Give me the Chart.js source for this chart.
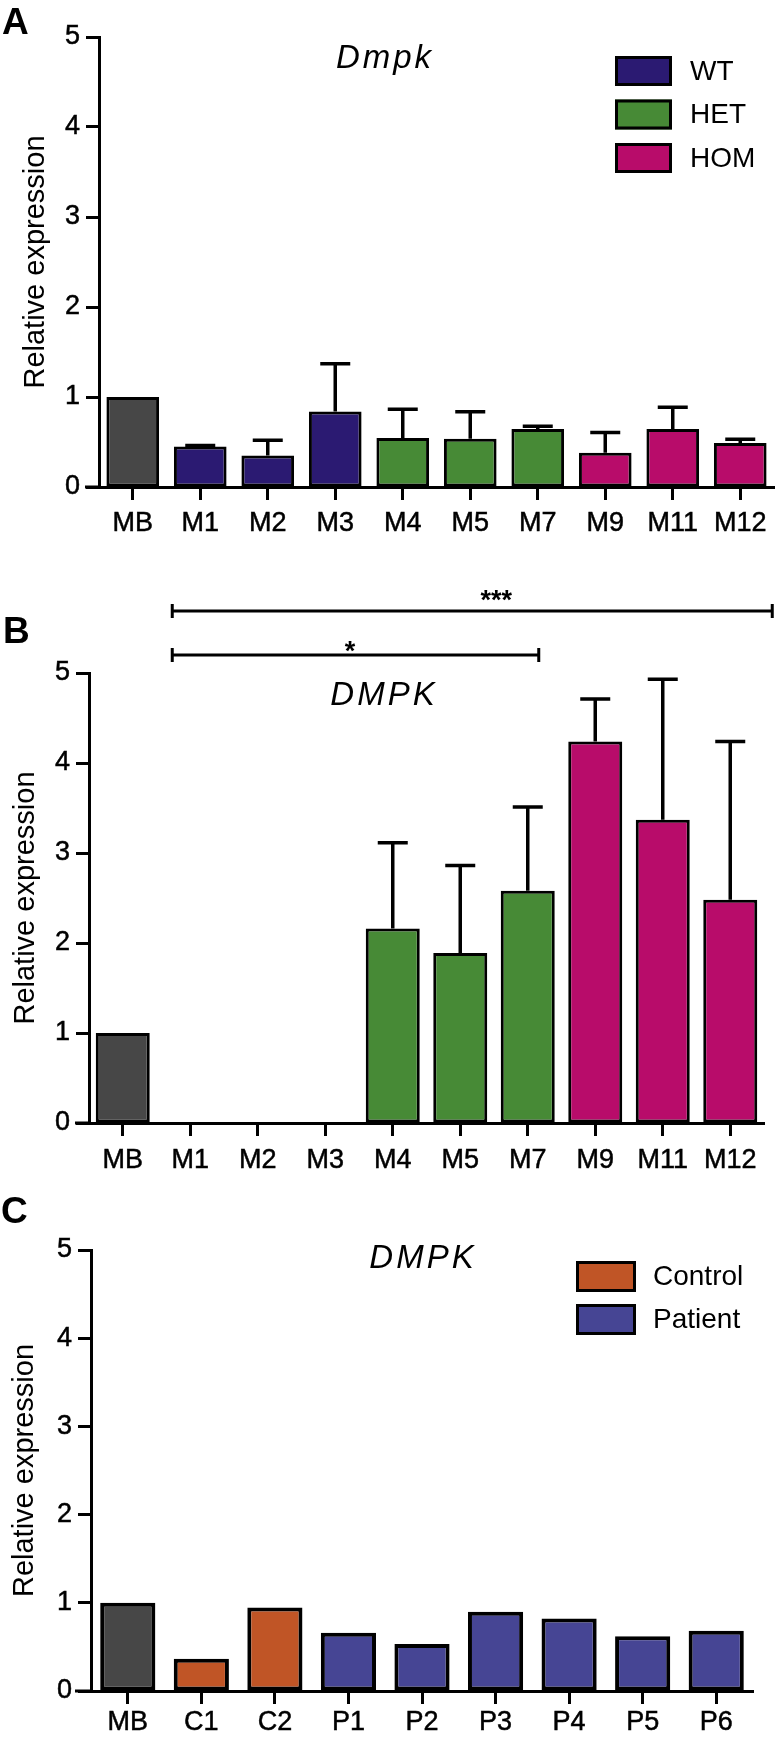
<!DOCTYPE html>
<html><head><meta charset="utf-8">
<script src="https://cdn.jsdelivr.net/npm/chart.js@4.4.0/dist/chart.umd.min.js"></script>
<style>
html,body{margin:0;padding:0;background:#fff;}
body{width:777px;height:1737px;position:relative;overflow:hidden;}
.pan{position:absolute;left:0;width:777px;}
canvas{display:block;}
</style></head><body>
<div class="pan" style="top:0;height:560px"><canvas id="cA" width="777" height="560"></canvas></div>
<div class="pan" style="top:560px;height:630px"><canvas id="cB" width="777" height="630"></canvas></div>
<div class="pan" style="top:1190px;height:547px"><canvas id="cC" width="777" height="547"></canvas></div>
<script>
// ---------- data ----------
const mouseCategories = ['MB','M1','M2','M3','M4','M5','M7','M9','M11','M12'];
const mouseGroups     = ['MB','WT','WT','WT','HET','HET','HET','HOM','HOM','HOM'];
const dmpkMouse       = [1.0, 0.45, 0.35, 0.84, 0.545, 0.535, 0.645, 0.38, 0.645, 0.49];
const dmpkMouseSD     = [0, 0.01, 0.17, 0.53, 0.32, 0.30, 0.03, 0.225, 0.24, 0.04];
const dmpkHuman       = [1.0, 0, 0, 0, 2.16, 1.89, 2.58, 4.24, 3.37, 2.48];
const dmpkHumanSD     = [0, 0, 0, 0, 0.955, 0.97, 0.93, 0.47, 1.56, 1.76];
const cellCategories  = ['MB','C1','C2','P1','P2','P3','P4','P5','P6'];
const cellGroups      = ['MB','Control','Control','Patient','Patient','Patient','Patient','Patient','Patient'];
const dmpkCells       = [1.0, 0.367, 0.947, 0.66, 0.534, 0.898, 0.822, 0.621, 0.682];
const yTickValues     = [0, 1, 2, 3, 4, 5];
const comparisonsB    = [
  {from:'M1', to:'M12', label:'***'},
  {from:'M1', to:'M7',  label:'*'}
];

// ---------- styles ----------
const FONT = "'Liberation Sans', Arial, Helvetica, sans-serif";
const groupColors = {MB:'#474747', WT:'#2b1a72', HET:'#478a36', HOM:'#b80c6a', Control:'#c05526', Patient:'#464594'};

const decorPlugin = {
  id: 'decor',
  afterDraw(chart, args, o) {
    const ctx = chart.ctx, xs = chart.scales.x, ys = chart.scales.y, ca = chart.chartArea;
    ctx.save();
    ctx.strokeStyle = '#000'; ctx.fillStyle = '#000'; ctx.lineCap = 'butt';
    // x axis extension to the left
    ctx.lineWidth = 3;
    ctx.beginPath(); ctx.moveTo(ca.left - o.axisExt, ca.bottom); ctx.lineTo(ca.left, ca.bottom); ctx.stroke();
    // error bars (upward SD)
    if (o.errors) {
      const meta = chart.getDatasetMeta(0), vals = chart.data.datasets[0].data;
      ctx.lineWidth = 3.5;
      ctx.beginPath();
      o.errors.forEach((e, i) => {
        if (!(e > 0)) return;
        const px = meta.data[i].x;
        const y0 = ys.getPixelForValue(vals[i]);
        const y1 = ys.getPixelForValue(vals[i] + e);
        ctx.moveTo(px, y0); ctx.lineTo(px, y1);
        ctx.moveTo(px - o.capWidth / 2, y1); ctx.lineTo(px + o.capWidth / 2, y1);
      });
      ctx.stroke();
    }
    // significance brackets
    (o.brackets || []).forEach(b => {
      const labels = chart.data.labels;
      const x0 = xs.getPixelForValue(labels.indexOf(b.from)) + b.padL;
      const x1 = xs.getPixelForValue(labels.indexOf(b.to)) + b.padR;
      ctx.lineWidth = 3;
      ctx.beginPath();
      ctx.moveTo(x0, b.y); ctx.lineTo(x1, b.y);
      ctx.moveTo(x0, b.y - 7); ctx.lineTo(x0, b.y + 7);
      ctx.moveTo(x1, b.y - 7); ctx.lineTo(x1, b.y + 7);
      ctx.stroke();
      ctx.font = `bold 27px ${FONT}`;
      ctx.textAlign = 'center'; ctx.textBaseline = 'alphabetic';
      ctx.fillText(b.label, x0 + (x1 - x0) * b.at, b.labelY);
    });
    // gene title
    if (o.title) {
      ctx.font = `italic 33px ${FONT}`;
      ctx.letterSpacing = '3px';
      ctx.textAlign = 'center'; ctx.textBaseline = 'alphabetic';
      ctx.fillText(o.title.text, o.title.x, o.title.y);
      ctx.letterSpacing = '0px';
    }
    // panel letter
    if (o.letter) {
      ctx.font = `bold 37px ${FONT}`;
      ctx.textAlign = 'left'; ctx.textBaseline = 'alphabetic';
      ctx.fillText(o.letter.text, o.letter.x, o.letter.y);
    }
    // legend
    if (o.legend) {
      const L = o.legend;
      L.items.forEach((it, k) => {
        const by = L.y + k * L.step;
        ctx.fillStyle = groupColors[it];
        ctx.fillRect(L.x, by, L.w, L.h);
        ctx.lineWidth = 3; ctx.strokeStyle = '#000';
        ctx.strokeRect(L.x + 1.5, by + 1.5, L.w - 3, L.h - 3);
        ctx.fillStyle = '#000';
        ctx.font = `28px ${FONT}`;
        ctx.textAlign = 'left'; ctx.textBaseline = 'middle';
        ctx.fillText(it, L.textX, by + L.h / 2 + 1);
      });
    }
    ctx.restore();
  }
};

function uniqueGroups(g) { return g.filter((v, i) => v !== 'MB' && g.indexOf(v) === i); }

function makeChart(id, cats, groups, values, p) {
  return new Chart(document.getElementById(id), {
    type: 'bar',
    data: {
      labels: cats,
      datasets: [{
        data: values,
        backgroundColor: groups.map(g => groupColors[g]),
        borderColor: '#000',
        borderWidth: p.barBorder,
        borderSkipped: false,
        categoryPercentage: 1.0,
        barPercentage: p.barPct
      }]
    },
    options: {
      responsive: false,
      animation: false,
      devicePixelRatio: 1,
      layout: { padding: p.pad },
      plugins: { legend: {display:false}, tooltip: {enabled:false}, decor: p.decor },
      scales: {
        x: {
          grid: { display:true, drawOnChartArea:false, drawTicks:true, tickLength:13, tickWidth:3, tickColor:'#000', offset:false },
          border: { display:true, color:'#000', width:3 },
          ticks: { color:'#000', font:{family:FONT, size:27}, padding:p.xPad, autoSkip:false, maxRotation:0, minRotation:0, textStrokeColor:'#000', textStrokeWidth:0.5 },
          afterFit: s => { s.height = p.xHeight; }
        },
        y: {
          min: 0, max: 5,
          afterBuildTicks: s => { s.ticks = yTickValues.map(v => ({value:v})); },
          grid: { display:true, drawOnChartArea:false, drawTicks:true, tickLength:13, tickWidth:3, tickColor:'#000' },
          border: { display:true, color:'#000', width:3 },
          ticks: { color:'#000', font:{family:FONT, size:27}, padding:6, textStrokeColor:'#000', textStrokeWidth:0.5 },
          title: { display:true, text:'Relative expression', color:'#000', font:{family:FONT, size:29}, padding:{top:p.yTitlePad, bottom:0} },
          afterFit: s => { s.width = p.yWidth; }
        }
      }
    },
    plugins: [decorPlugin]
  });
}

// Panel A
makeChart('cA', mouseCategories, mouseGroups, dmpkMouse, {
  barBorder: 3, barPct: 0.78, pad: {top:37, bottom:13, left:0, right:3},
  xHeight: 60, xPad: 7, yWidth: 99, yTitlePad: 19,
  decor: {
    axisExt: 14, errors: dmpkMouseSD, capWidth: 30,
    title: {text:'Dmpk', x:385, y:68},
    letter: {text:'A', x:2, y:34},
    legend: {items: uniqueGroups(mouseGroups), x:615, y:56, w:57, h:30, step:43.5, textX:690}
  }
});

// Panel B
makeChart('cB', mouseCategories, mouseGroups, dmpkHuman, {
  barBorder: 3, barPct: 0.8, pad: {top:113, bottom:7, left:0, right:13},
  xHeight: 60, xPad: 8, yWidth: 89, yTitlePad: 9,
  decor: {
    axisExt: 14, errors: dmpkHumanSD, capWidth: 30,
    title: {text:'DMPK', x:384, y:145},
    letter: {text:'B', x:3, y:83},
    brackets: [
      {from:comparisonsB[0].from, to:comparisonsB[0].to, label:comparisonsB[0].label, padL:-18, padR:42, y:51, labelY:49, at:0.54},
      {from:comparisonsB[1].from, to:comparisonsB[1].to, label:comparisonsB[1].label, padL:-18, padR:11, y:95, labelY:100, at:0.485}
    ]
  }
});

// Panel C
makeChart('cC', cellCategories, cellGroups, dmpkCells, {
  barBorder: 4, barPct: 0.75, pad: {top:60, bottom:0, left:0, right:24},
  xHeight: 46, xPad: 2, yWidth: 91, yTitlePad: 8,
  decor: {
    axisExt: 16, errors: null,
    title: {text:'DMPK', x:423, y:78},
    letter: {text:'C', x:1, y:33},
    legend: {items: uniqueGroups(cellGroups), x:576, y:71, w:60, h:31, step:43, textX:653}
  }
});
</script>
</body></html>
